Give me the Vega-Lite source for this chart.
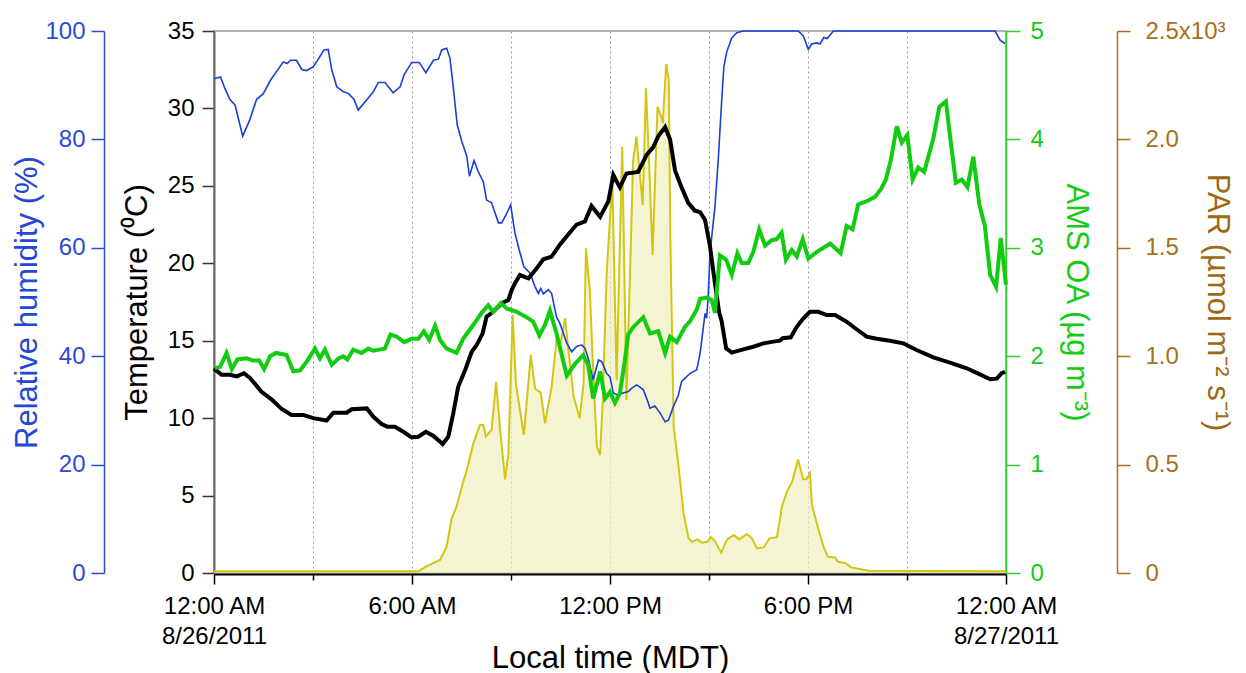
{
  "$schema": "https://vega.github.io/schema/vega-lite/v6.json",
  "width": 792,
  "height": 542,
  "autosize": {"type": "none"},
  "padding": {"left": 214, "top": 31, "right": 240, "bottom": 100},
  "background": "white",
  "config": {
    "view": {"stroke": "#9a9a9a", "strokeWidth": 1.5},
    "font": "Liberation Sans",
    "axis": {
      "labelFont": "Liberation Sans",
      "titleFont": "Liberation Sans",
      "titleFontWeight": "normal",
      "labelFontSize": 24,
      "titleFontSize": 31,
      "grid": false,
      "labelOverlap": false,
      "labelFlush": false,
      "labelBound": false
    }
  },
  "datasets": {
    "rh": [
      {"hour": 0, "rh": 91.2}, {"hour": 0.2, "rh": 91.5}, {"hour": 0.33, "rh": 89.4}, {"hour": 0.48, "rh": 87.4},
      {"hour": 0.64, "rh": 86.3}, {"hour": 0.87, "rh": 80.6}, {"hour": 1.09, "rh": 83.7}, {"hour": 1.29, "rh": 87.4},
      {"hour": 1.49, "rh": 88.4}, {"hour": 1.72, "rh": 91.0}, {"hour": 2.1, "rh": 94.3}, {"hour": 2.22, "rh": 94.0},
      {"hour": 2.32, "rh": 94.6}, {"hour": 2.5, "rh": 94.6}, {"hour": 2.66, "rh": 92.9}, {"hour": 2.81, "rh": 92.7},
      {"hour": 3.01, "rh": 93.4}, {"hour": 3.16, "rh": 94.8}, {"hour": 3.33, "rh": 96.5}, {"hour": 3.46, "rh": 96.6},
      {"hour": 3.57, "rh": 92.8}, {"hour": 3.72, "rh": 89.7}, {"hour": 3.92, "rh": 88.8}, {"hour": 4.07, "rh": 88.5},
      {"hour": 4.24, "rh": 87.4}, {"hour": 4.37, "rh": 85.4}, {"hour": 4.63, "rh": 87.3}, {"hour": 4.83, "rh": 88.8},
      {"hour": 4.98, "rh": 90.5}, {"hour": 5.18, "rh": 90.5}, {"hour": 5.43, "rh": 88.6}, {"hour": 5.64, "rh": 89.7},
      {"hour": 5.76, "rh": 91.9}, {"hour": 5.99, "rh": 94.2}, {"hour": 6.22, "rh": 94.2}, {"hour": 6.42, "rh": 92.3},
      {"hour": 6.65, "rh": 94.6}, {"hour": 6.8, "rh": 94.8}, {"hour": 6.9, "rh": 96.5}, {"hour": 7.05, "rh": 96.8},
      {"hour": 7.15, "rh": 95.0}, {"hour": 7.25, "rh": 89.7}, {"hour": 7.37, "rh": 82.7}, {"hour": 7.51, "rh": 79.6},
      {"hour": 7.66, "rh": 76.9}, {"hour": 7.74, "rh": 73.2}, {"hour": 7.88, "rh": 76.1}, {"hour": 8.01, "rh": 74.0},
      {"hour": 8.16, "rh": 72.2}, {"hour": 8.26, "rh": 68.8}, {"hour": 8.41, "rh": 68.3}, {"hour": 8.62, "rh": 64.6},
      {"hour": 8.72, "rh": 64.6}, {"hour": 8.85, "rh": 66.1}, {"hour": 8.99, "rh": 67.9}, {"hour": 9.12, "rh": 62.7},
      {"hour": 9.25, "rh": 59.6}, {"hour": 9.39, "rh": 56.5}, {"hour": 9.58, "rh": 55.3}, {"hour": 9.73, "rh": 52.8},
      {"hour": 9.83, "rh": 51.6}, {"hour": 9.9, "rh": 52.5}, {"hour": 9.98, "rh": 51.5}, {"hour": 10.13, "rh": 52.3},
      {"hour": 10.23, "rh": 51.6}, {"hour": 10.38, "rh": 47.2}, {"hour": 10.48, "rh": 46.1}, {"hour": 10.69, "rh": 42.4},
      {"hour": 10.84, "rh": 40.8}, {"hour": 10.99, "rh": 41.8}, {"hour": 11.14, "rh": 42.1}, {"hour": 11.24, "rh": 41.5},
      {"hour": 11.34, "rh": 39.6}, {"hour": 11.49, "rh": 35.6}, {"hour": 11.65, "rh": 39.3}, {"hour": 11.75, "rh": 39.0},
      {"hour": 11.9, "rh": 36.8}, {"hour": 12.0, "rh": 36.2}, {"hour": 12.1, "rh": 33.2}, {"hour": 12.25, "rh": 32.8},
      {"hour": 12.4, "rh": 33.2}, {"hour": 12.56, "rh": 33.5}, {"hour": 12.66, "rh": 34.1}, {"hour": 12.81, "rh": 34.7},
      {"hour": 12.91, "rh": 34.3}, {"hour": 13.01, "rh": 33.8}, {"hour": 13.13, "rh": 31.9}, {"hour": 13.21, "rh": 30.4},
      {"hour": 13.36, "rh": 30.8}, {"hour": 13.52, "rh": 29.5}, {"hour": 13.67, "rh": 27.9}, {"hour": 13.77, "rh": 28.2},
      {"hour": 13.92, "rh": 30.7}, {"hour": 14.07, "rh": 32.8}, {"hour": 14.17, "rh": 35.3}, {"hour": 14.27, "rh": 35.9},
      {"hour": 14.42, "rh": 36.8}, {"hour": 14.63, "rh": 37.5}, {"hour": 14.73, "rh": 40.5}, {"hour": 14.88, "rh": 47.9},
      {"hour": 14.93, "rh": 47.0}, {"hour": 14.98, "rh": 51.6}, {"hour": 15.03, "rh": 59.0}, {"hour": 15.18, "rh": 67.6},
      {"hour": 15.28, "rh": 76.2}, {"hour": 15.38, "rh": 86.7}, {"hour": 15.45, "rh": 93.4}, {"hour": 15.54, "rh": 96.2},
      {"hour": 15.69, "rh": 98.7}, {"hour": 15.84, "rh": 99.7}, {"hour": 16.04, "rh": 100}, {"hour": 17.7, "rh": 100},
      {"hour": 17.86, "rh": 99.1}, {"hour": 18.01, "rh": 96.6}, {"hour": 18.11, "rh": 97.6}, {"hour": 18.26, "rh": 97.8},
      {"hour": 18.36, "rh": 97.6}, {"hour": 18.48, "rh": 98.8}, {"hour": 18.58, "rh": 98.6}, {"hour": 18.77, "rh": 100},
      {"hour": 23.67, "rh": 100}, {"hour": 23.82, "rh": 98.3}, {"hour": 23.97, "rh": 97.7}
    ],
    "temp": [
      {"hour": 0, "t": 13.2}, {"hour": 0.23, "t": 12.8}, {"hour": 0.48, "t": 12.8}, {"hour": 0.69, "t": 12.7},
      {"hour": 0.91, "t": 12.9}, {"hour": 1.09, "t": 12.6}, {"hour": 1.44, "t": 11.7}, {"hour": 1.75, "t": 11.2},
      {"hour": 2.05, "t": 10.6}, {"hour": 2.35, "t": 10.2}, {"hour": 2.71, "t": 10.2}, {"hour": 3.01, "t": 10.0},
      {"hour": 3.41, "t": 9.85}, {"hour": 3.62, "t": 10.35}, {"hour": 4.02, "t": 10.35}, {"hour": 4.17, "t": 10.57},
      {"hour": 4.63, "t": 10.63}, {"hour": 4.83, "t": 10.09}, {"hour": 5.08, "t": 9.62}, {"hour": 5.25, "t": 9.45},
      {"hour": 5.48, "t": 9.45}, {"hour": 5.74, "t": 9.12}, {"hour": 5.99, "t": 8.76}, {"hour": 6.19, "t": 8.8},
      {"hour": 6.42, "t": 9.12}, {"hour": 6.65, "t": 8.85}, {"hour": 6.93, "t": 8.33}, {"hour": 7.1, "t": 8.8},
      {"hour": 7.25, "t": 10.31}, {"hour": 7.4, "t": 12.03}, {"hour": 7.61, "t": 13.11}, {"hour": 7.81, "t": 14.29},
      {"hour": 7.96, "t": 14.72}, {"hour": 8.14, "t": 15.48}, {"hour": 8.26, "t": 16.55}, {"hour": 8.46, "t": 16.87},
      {"hour": 8.72, "t": 17.42}, {"hour": 8.92, "t": 17.63}, {"hour": 9.02, "t": 18.27}, {"hour": 9.12, "t": 18.71},
      {"hour": 9.27, "t": 19.24}, {"hour": 9.53, "t": 19.03}, {"hour": 9.78, "t": 19.68}, {"hour": 9.98, "t": 20.26},
      {"hour": 10.23, "t": 20.43}, {"hour": 10.48, "t": 21.2}, {"hour": 10.79, "t": 22.0}, {"hour": 10.99, "t": 22.5},
      {"hour": 11.24, "t": 22.7}, {"hour": 11.44, "t": 23.7}, {"hour": 11.7, "t": 23.0}, {"hour": 11.95, "t": 24.0},
      {"hour": 12.1, "t": 25.7}, {"hour": 12.3, "t": 24.9}, {"hour": 12.5, "t": 25.8}, {"hour": 12.85, "t": 25.9},
      {"hour": 13.11, "t": 27.0}, {"hour": 13.31, "t": 27.5}, {"hour": 13.46, "t": 28.2}, {"hour": 13.67, "t": 28.8},
      {"hour": 13.82, "t": 28.0}, {"hour": 13.97, "t": 26.0}, {"hour": 14.17, "t": 24.9}, {"hour": 14.37, "t": 23.9},
      {"hour": 14.57, "t": 23.4}, {"hour": 14.73, "t": 23.3}, {"hour": 14.88, "t": 22.8}, {"hour": 15.03, "t": 21.1},
      {"hour": 15.18, "t": 18.7}, {"hour": 15.31, "t": 16.8}, {"hour": 15.38, "t": 16.3}, {"hour": 15.52, "t": 14.5},
      {"hour": 15.69, "t": 14.23}, {"hour": 16.04, "t": 14.44}, {"hour": 16.34, "t": 14.61}, {"hour": 16.65, "t": 14.83},
      {"hour": 16.95, "t": 14.94}, {"hour": 17.15, "t": 15.0}, {"hour": 17.23, "t": 15.16}, {"hour": 17.48, "t": 15.22},
      {"hour": 17.66, "t": 15.9}, {"hour": 17.86, "t": 16.45}, {"hour": 18.06, "t": 16.87}, {"hour": 18.31, "t": 16.87},
      {"hour": 18.57, "t": 16.66}, {"hour": 18.82, "t": 16.66}, {"hour": 19.17, "t": 16.23}, {"hour": 19.47, "t": 15.74},
      {"hour": 19.78, "t": 15.26}, {"hour": 20.08, "t": 15.13}, {"hour": 20.48, "t": 15.0}, {"hour": 20.89, "t": 14.83},
      {"hour": 21.29, "t": 14.4}, {"hour": 21.8, "t": 13.93}, {"hour": 22.3, "t": 13.58}, {"hour": 22.81, "t": 13.22},
      {"hour": 23.21, "t": 12.83}, {"hour": 23.52, "t": 12.51}, {"hour": 23.72, "t": 12.55}, {"hour": 23.87, "t": 12.9},
      {"hour": 23.97, "t": 13.0}
    ],
    "oa": [
      {"hour": 0.03, "oa": 1.89}, {"hour": 0.18, "oa": 1.9}, {"hour": 0.38, "oa": 2.03}, {"hour": 0.54, "oa": 1.88},
      {"hour": 0.71, "oa": 1.97}, {"hour": 0.99, "oa": 1.98}, {"hour": 1.19, "oa": 1.96}, {"hour": 1.37, "oa": 1.96},
      {"hour": 1.52, "oa": 1.88}, {"hour": 1.7, "oa": 2.0}, {"hour": 1.88, "oa": 2.03}, {"hour": 2.2, "oa": 2.01},
      {"hour": 2.4, "oa": 1.86}, {"hour": 2.61, "oa": 1.87}, {"hour": 2.81, "oa": 1.95}, {"hour": 3.06, "oa": 2.07},
      {"hour": 3.21, "oa": 1.98}, {"hour": 3.36, "oa": 2.06}, {"hour": 3.57, "oa": 1.92}, {"hour": 3.77, "oa": 1.98},
      {"hour": 3.92, "oa": 2.0}, {"hour": 4.04, "oa": 1.97}, {"hour": 4.22, "oa": 2.06}, {"hour": 4.47, "oa": 2.03},
      {"hour": 4.68, "oa": 2.07}, {"hour": 4.83, "oa": 2.05}, {"hour": 5.18, "oa": 2.07}, {"hour": 5.35, "oa": 2.2},
      {"hour": 5.54, "oa": 2.18}, {"hour": 5.76, "oa": 2.13}, {"hour": 5.99, "oa": 2.16}, {"hour": 6.19, "oa": 2.16},
      {"hour": 6.36, "oa": 2.23}, {"hour": 6.52, "oa": 2.15}, {"hour": 6.7, "oa": 2.28}, {"hour": 6.85, "oa": 2.15},
      {"hour": 7.05, "oa": 2.07}, {"hour": 7.35, "oa": 2.03}, {"hour": 7.55, "oa": 2.16}, {"hour": 7.86, "oa": 2.29},
      {"hour": 8.11, "oa": 2.4}, {"hour": 8.31, "oa": 2.47}, {"hour": 8.46, "oa": 2.41}, {"hour": 8.69, "oa": 2.49},
      {"hour": 8.87, "oa": 2.44}, {"hour": 9.17, "oa": 2.41}, {"hour": 9.47, "oa": 2.36}, {"hour": 9.67, "oa": 2.32},
      {"hour": 9.86, "oa": 2.19}, {"hour": 10.03, "oa": 2.29}, {"hour": 10.18, "oa": 2.42}, {"hour": 10.38, "oa": 2.21},
      {"hour": 10.69, "oa": 1.82}, {"hour": 10.94, "oa": 1.93}, {"hour": 11.19, "oa": 2.01}, {"hour": 11.34, "oa": 1.92},
      {"hour": 11.49, "oa": 1.61}, {"hour": 11.7, "oa": 1.86}, {"hour": 11.85, "oa": 1.61}, {"hour": 12.0, "oa": 1.67},
      {"hour": 12.15, "oa": 1.57}, {"hour": 12.3, "oa": 1.66}, {"hour": 12.45, "oa": 1.96}, {"hour": 12.55, "oa": 2.2},
      {"hour": 12.71, "oa": 2.27}, {"hour": 13.01, "oa": 2.36}, {"hour": 13.21, "oa": 2.21}, {"hour": 13.46, "oa": 2.23},
      {"hour": 13.67, "oa": 2.03}, {"hour": 13.82, "oa": 2.18}, {"hour": 14.02, "oa": 2.13}, {"hour": 14.27, "oa": 2.27},
      {"hour": 14.42, "oa": 2.32}, {"hour": 14.63, "oa": 2.43}, {"hour": 14.73, "oa": 2.53}, {"hour": 14.93, "oa": 2.54},
      {"hour": 15.08, "oa": 2.52}, {"hour": 15.18, "oa": 2.4}, {"hour": 15.33, "oa": 2.93}, {"hour": 15.52, "oa": 2.89},
      {"hour": 15.69, "oa": 2.75}, {"hour": 15.86, "oa": 2.95}, {"hour": 15.99, "oa": 2.86}, {"hour": 16.19, "oa": 2.86},
      {"hour": 16.34, "oa": 2.96}, {"hour": 16.52, "oa": 3.17}, {"hour": 16.7, "oa": 3.02}, {"hour": 16.9, "oa": 3.07},
      {"hour": 17.05, "oa": 3.08}, {"hour": 17.2, "oa": 3.14}, {"hour": 17.33, "oa": 2.89}, {"hour": 17.51, "oa": 2.98},
      {"hour": 17.66, "oa": 2.92}, {"hour": 17.84, "oa": 3.08}, {"hour": 18.01, "oa": 2.9}, {"hour": 18.26, "oa": 2.96},
      {"hour": 18.67, "oa": 3.04}, {"hour": 18.99, "oa": 2.95}, {"hour": 19.17, "oa": 3.2}, {"hour": 19.35, "oa": 3.17},
      {"hour": 19.52, "oa": 3.4}, {"hour": 19.78, "oa": 3.43}, {"hour": 20.03, "oa": 3.47}, {"hour": 20.23, "oa": 3.55},
      {"hour": 20.36, "oa": 3.63}, {"hour": 20.51, "oa": 3.81}, {"hour": 20.69, "oa": 4.12}, {"hour": 20.84, "oa": 3.97},
      {"hour": 21.01, "oa": 4.04}, {"hour": 21.17, "oa": 3.63}, {"hour": 21.34, "oa": 3.74}, {"hour": 21.52, "oa": 3.7},
      {"hour": 21.8, "oa": 4.01}, {"hour": 21.98, "oa": 4.3}, {"hour": 22.18, "oa": 4.35}, {"hour": 22.3, "oa": 4.04},
      {"hour": 22.48, "oa": 3.6}, {"hour": 22.66, "oa": 3.63}, {"hour": 22.83, "oa": 3.56}, {"hour": 23.01, "oa": 3.84},
      {"hour": 23.19, "oa": 3.4}, {"hour": 23.36, "oa": 3.2}, {"hour": 23.52, "oa": 2.75}, {"hour": 23.7, "oa": 2.64},
      {"hour": 23.84, "oa": 3.09}, {"hour": 24.0, "oa": 2.66}
    ],
    "par": [
      {"hour": 0, "par": 8}, {"hour": 6.19, "par": 8}, {"hour": 6.45, "par": 32}, {"hour": 6.85, "par": 60},
      {"hour": 7.05, "par": 121}, {"hour": 7.2, "par": 250}, {"hour": 7.35, "par": 306}, {"hour": 7.51, "par": 398},
      {"hour": 7.66, "par": 475}, {"hour": 7.86, "par": 598}, {"hour": 8.06, "par": 683}, {"hour": 8.16, "par": 683},
      {"hour": 8.24, "par": 629}, {"hour": 8.41, "par": 660}, {"hour": 8.55, "par": 882}, {"hour": 8.67, "par": 660},
      {"hour": 8.82, "par": 432}, {"hour": 8.92, "par": 545}, {"hour": 9.05, "par": 1190}, {"hour": 9.15, "par": 870},
      {"hour": 9.39, "par": 637}, {"hour": 9.6, "par": 1006}, {"hour": 9.73, "par": 850}, {"hour": 9.9, "par": 832},
      {"hour": 10.03, "par": 690}, {"hour": 10.23, "par": 859}, {"hour": 10.38, "par": 1075}, {"hour": 10.5, "par": 1059},
      {"hour": 10.64, "par": 1175}, {"hour": 10.74, "par": 1029}, {"hour": 10.9, "par": 813}, {"hour": 11.08, "par": 714},
      {"hour": 11.2, "par": 875}, {"hour": 11.27, "par": 1498}, {"hour": 11.39, "par": 1300}, {"hour": 11.47, "par": 1000},
      {"hour": 11.6, "par": 583}, {"hour": 11.7, "par": 544}, {"hour": 11.78, "par": 798}, {"hour": 11.9, "par": 1382},
      {"hour": 12.07, "par": 1813}, {"hour": 12.2, "par": 890}, {"hour": 12.37, "par": 1966}, {"hour": 12.5, "par": 798},
      {"hour": 12.7, "par": 1900}, {"hour": 12.8, "par": 2013}, {"hour": 12.99, "par": 1697}, {"hour": 13.09, "par": 2236},
      {"hour": 13.19, "par": 1874}, {"hour": 13.29, "par": 1467}, {"hour": 13.44, "par": 2151}, {"hour": 13.55, "par": 2105},
      {"hour": 13.6, "par": 2074}, {"hour": 13.7, "par": 2348}, {"hour": 13.78, "par": 2274}, {"hour": 13.83, "par": 1536},
      {"hour": 13.93, "par": 675}, {"hour": 14.08, "par": 490}, {"hour": 14.23, "par": 275}, {"hour": 14.38, "par": 160},
      {"hour": 14.49, "par": 144}, {"hour": 14.64, "par": 155}, {"hour": 14.79, "par": 140}, {"hour": 14.94, "par": 144},
      {"hour": 15.07, "par": 165}, {"hour": 15.19, "par": 144}, {"hour": 15.37, "par": 94}, {"hour": 15.55, "par": 155},
      {"hour": 15.75, "par": 175}, {"hour": 15.92, "par": 155}, {"hour": 16.15, "par": 180}, {"hour": 16.3, "par": 160},
      {"hour": 16.45, "par": 114}, {"hour": 16.66, "par": 118}, {"hour": 16.83, "par": 160}, {"hour": 17.06, "par": 165},
      {"hour": 17.21, "par": 306}, {"hour": 17.36, "par": 375}, {"hour": 17.52, "par": 421}, {"hour": 17.7, "par": 524},
      {"hour": 17.85, "par": 432}, {"hour": 17.95, "par": 432}, {"hour": 18.06, "par": 460}, {"hour": 18.12, "par": 314},
      {"hour": 18.32, "par": 198}, {"hour": 18.47, "par": 121}, {"hour": 18.6, "par": 75}, {"hour": 18.81, "par": 72},
      {"hour": 18.91, "par": 52}, {"hour": 19.15, "par": 45}, {"hour": 19.3, "par": 26}, {"hour": 19.6, "par": 17},
      {"hour": 19.85, "par": 10}, {"hour": 24, "par": 8}
    ]
  },
  "encoding": {
    "x": {
      "field": "hour", "type": "quantitative",
      "scale": {"domain": [0, 24], "nice": false, "zero": false},
      "axis": {
        "title": "Local time (MDT)",
        "titleColor": "#000",
        "titleY": 84,
        "titleBaseline": "middle",
        "values": [0, 3, 6, 9, 12, 15, 18, 21, 24],
        "labelExpr": "datum.value == 0 ? ['12:00 AM', '8/26/2011'] : datum.value == 24 ? ['12:00 AM', '8/27/2011'] : datum.value == 6 ? '6:00 AM' : datum.value == 12 ? '12:00 PM' : datum.value == 18 ? '6:00 PM' : ''",
        "labelColor": "#000",
        "labelPadding": 10,
        "labelLineHeight": 30,
        "tickSize": {"condition": {"test": "datum.value % 6 == 0", "value": 10}, "value": 6},
        "tickColor": "#000",
        "tickWidth": 1.5,
        "domainColor": "#000",
        "domainWidth": 2,
        "offset": 1,
        "grid": true,
        "gridColor": "#9a9a9a",
        "gridDash": [2, 3],
        "gridWidth": 1
      }
    }
  },
  "layer": [
    {
      "data": {"name": "par"},
      "mark": {"type": "area", "color": "#f0efbf", "line": {"color": "#d3c612", "strokeWidth": 2}},
      "encoding": {
        "y": {
          "field": "par", "type": "quantitative",
          "scale": {"domain": [0, 2500], "nice": false},
          "axis": {
            "orient": "right",
            "offset": 111,
            "values": [0, 500, 1000, 1500, 2000, 2500],
            "labelExpr": "datum.value == 2500 ? '2.5x10³' : datum.value == 0 ? '0' : format(datum.value / 1000, '.1f')",
            "title": "PAR (µmol m⁻² s⁻¹)",
            "titleColor": "#9c6a13",
            "titleX": 99,
            "titleBaseline": "middle",
            "titleAngle": 90,
            "labelColor": "#a5711a",
            "domainColor": "#a5711a",
            "tickColor": "#a5711a",
            "domainWidth": 1.5,
            "tickWidth": 1.5,
            "tickSize": 13,
            "labelPadding": 15
          }
        }
      }
    },
    {
      "data": {"name": "rh"},
      "mark": {"type": "line", "color": "#1a40d5", "strokeWidth": 1.6},
      "encoding": {
        "y": {
          "field": "rh", "type": "quantitative",
          "scale": {"domain": [0, 100], "nice": false},
          "axis": {
            "orient": "left",
            "offset": 110,
            "values": [0, 20, 40, 60, 80, 100],
            "title": "Relative humidity (%)",
            "titleColor": "#2447d6",
            "titleX": -77,
            "titleBaseline": "middle",
            "titleAngle": -90,
            "labelColor": "#2a4bd8",
            "domainColor": "#2a4bd8",
            "tickColor": "#2a4bd8",
            "domainWidth": 1.5,
            "tickWidth": 1.5,
            "tickSize": 13,
            "labelPadding": 6
          }
        }
      }
    },
    {
      "data": {"name": "temp"},
      "mark": {"type": "line", "color": "#000", "strokeWidth": 4},
      "encoding": {
        "y": {
          "field": "t", "type": "quantitative",
          "scale": {"domain": [0, 35], "nice": false},
          "axis": {
            "orient": "left",
            "offset": 0,
            "values": [0, 5, 10, 15, 20, 25, 30, 35],
            "title": "Temperature (⁰C)",
            "titleColor": "#000",
            "titleX": -77,
            "titleBaseline": "middle",
            "titleAngle": -90,
            "labelColor": "#000",
            "domainColor": "#666",
            "tickColor": "#333",
            "domainWidth": 2,
            "tickWidth": 1.5,
            "tickSize": 12,
            "labelPadding": 8
          }
        }
      }
    },
    {
      "data": {"name": "oa"},
      "mark": {"type": "line", "color": "#11cc11", "strokeWidth": 4},
      "encoding": {
        "y": {
          "field": "oa", "type": "quantitative",
          "scale": {"domain": [0, 5], "nice": false},
          "axis": {
            "orient": "right",
            "offset": 0,
            "values": [0, 1, 2, 3, 4, 5],
            "title": "AMS OA (µg m⁻³)",
            "titleColor": "#14cc14",
            "titleX": 69,
            "titleBaseline": "middle",
            "titleAngle": 90,
            "labelColor": "#14cc14",
            "domainColor": "#33cc33",
            "tickColor": "#33cc33",
            "domainWidth": 1.5,
            "tickWidth": 1.5,
            "tickSize": 14,
            "labelPadding": 10
          }
        }
      }
    }
  ],
  "resolve": {"scale": {"y": "independent"}}
}
